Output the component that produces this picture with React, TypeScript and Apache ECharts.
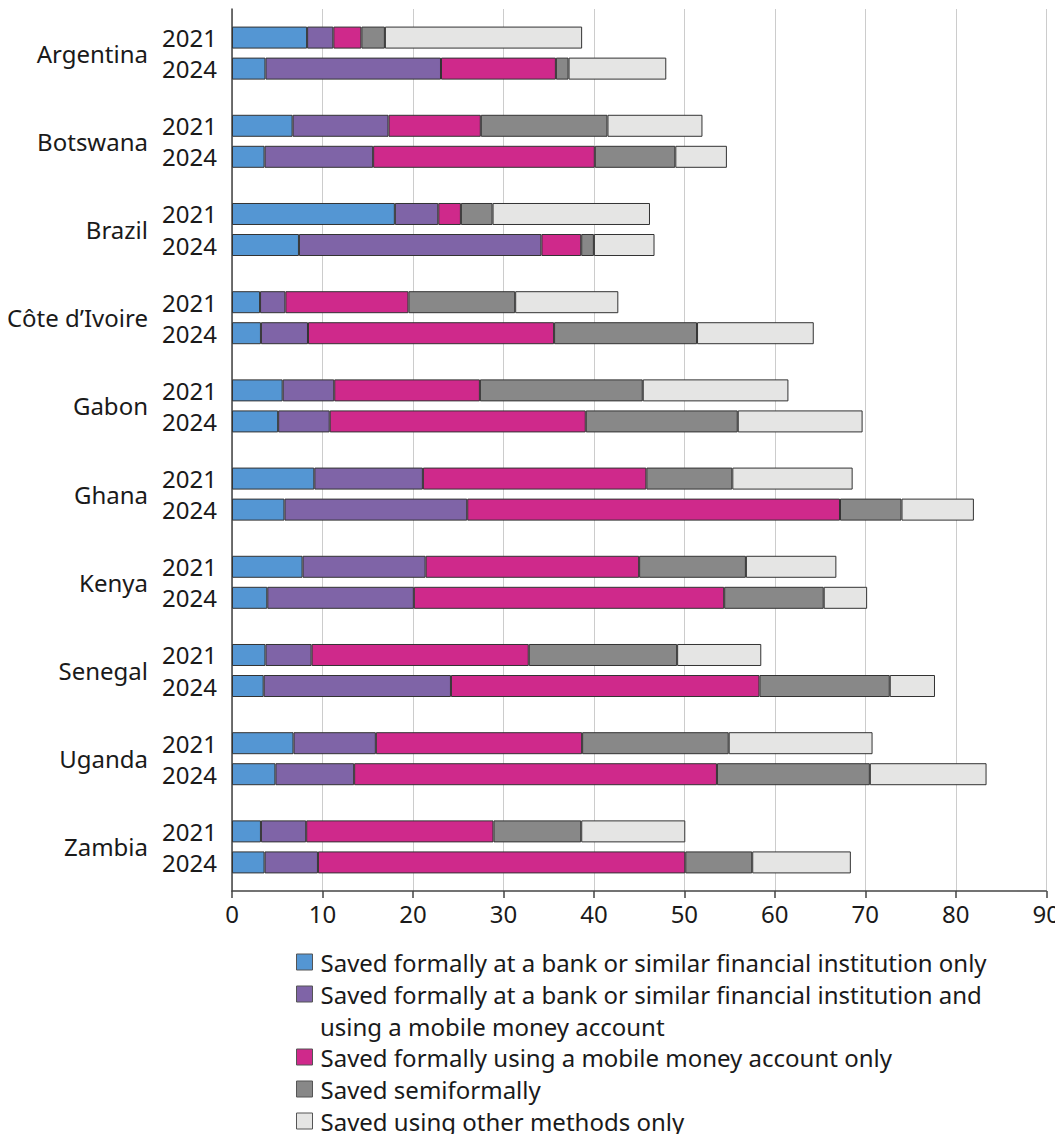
import React, { useEffect, useRef } from "react";
import * as echarts from "echarts";

const countries = ["Argentina", "Botswana", "Brazil", "Côte d’Ivoire", "Gabon", "Ghana", "Kenya", "Senegal", "Uganda", "Zambia"];
const years = ["2021", "2024"];
const xTicks = [0, 10, 20, 30, 40, 50, 60, 70, 80, 90];

const seriesNames = [
  "Saved formally at a bank or similar financial institution only",
  "Saved formally at a bank or similar financial institution and using a mobile money account",
  "Saved formally using a mobile money account only",
  "Saved semiformally",
  "Saved using other methods only",
];
const purpleLine1 = "Saved formally at a bank or similar financial institution and";
const purpleLine2 = "using a mobile money account";

const colors = ["#5496d3", "#7f64a7", "#cf298b", "#888888", "#e5e5e4"];

// 2021
const bankOnly2021 = [8.3, 6.7, 18.0, 3.1, 5.6, 9.1, 7.8, 3.7, 6.8, 3.2];
const bankMobile2021 = [2.9, 10.6, 4.8, 2.8, 5.7, 12.0, 13.6, 5.1, 9.1, 5.0];
const mobileOnly2021 = [3.1, 10.2, 2.5, 13.6, 16.1, 24.7, 23.6, 24.0, 22.8, 20.7];
const semiformal2021 = [2.6, 14.0, 3.5, 11.8, 18.0, 9.5, 11.8, 16.4, 16.2, 9.7];
const other2021 = [21.8, 10.5, 17.4, 11.4, 16.1, 13.3, 10.0, 9.3, 15.9, 11.5];

// 2024
const bankOnly2024 = [3.7, 3.6, 7.4, 3.2, 5.1, 5.8, 3.9, 3.5, 4.8, 3.6];
const bankMobile2024 = [19.4, 12.0, 26.8, 5.2, 5.7, 20.2, 16.2, 20.7, 8.7, 5.9];
const mobileOnly2024 = [12.7, 24.5, 4.4, 27.2, 28.3, 41.2, 34.3, 34.1, 40.1, 40.6];
const semiformal2024 = [1.4, 8.9, 1.4, 15.8, 16.8, 6.8, 11.0, 14.4, 16.9, 7.4];
const other2024 = [10.8, 5.7, 6.7, 12.9, 13.8, 8.0, 4.8, 5.0, 12.9, 10.9];

const byYear = [
  [bankOnly2021, bankMobile2021, mobileOnly2021, semiformal2021, other2021],
  [bankOnly2024, bankMobile2024, mobileOnly2024, semiformal2024, other2024],
];

const FONT = "Noto Sans";
const TEXT = "#1a1a1a";
const FS = 24;

export default function App() {
  const ref = useRef<HTMLDivElement>(null);
  useEffect(() => {
    const chart = echarts.init(ref.current!, null, { renderer: "svg" });
    const series: any[] = [];
    years.forEach((yr, yi) => {
      byYear[yi].forEach((vals, si) => {
        series.push({
          type: "bar",
          name: seriesNames[si],
          stack: yr,
          data: vals,
          barWidth: 22,
          barGap: "41%",
          itemStyle: { color: colors[si], borderColor: "#333333", borderWidth: 1 },
          label:
            si === 0
              ? {
                  show: true,
                  position: "left",
                  distance: 15,
                  formatter: () => yr,
                  fontFamily: FONT,
                  fontSize: FS,
                  color: TEXT,
                }
              : { show: false },
          emphasis: { disabled: true },
        });
      });
    });

    const legendCommon = {
      orient: "vertical",
      left: 296,
      padding: 0,
      height: 120,
      itemWidth: 16,
      itemHeight: 16,
      itemGap: 4,
      icon: "rect",
      selectedMode: false,
      itemStyle: { borderColor: "#555555", borderWidth: 1 },
      textStyle: { fontFamily: FONT, fontSize: FS, color: TEXT, lineHeight: 28, padding: [0, 0, 0, 3] },
      formatter: (n: string) => (n === seriesNames[1] ? purpleLine1 : n),
    };

    chart.setOption({
      animation: false,
      textStyle: { fontFamily: FONT },
      grid: { left: 232, right: 15, top: 9, height: 882, containLabel: false },
      xAxis: {
        type: "value",
        min: xTicks[0],
        max: xTicks[xTicks.length - 1],
        interval: 10,
        axisLine: { show: true, lineStyle: { color: "#444", width: 1.5 } },
        axisTick: { show: true, length: 7, lineStyle: { color: "#444", width: 1.5 } },
        axisLabel: { fontFamily: FONT, fontSize: FS, color: TEXT, margin: 10 },
        splitLine: { show: true, lineStyle: { color: "#cccccc", width: 1 } },
      },
      yAxis: {
        type: "category",
        data: countries,
        inverse: true,
        axisLine: { show: true, lineStyle: { color: "#444", width: 1.5 } },
        axisTick: { show: false },
        axisLabel: { fontFamily: FONT, fontSize: FS, color: TEXT, margin: 84 },
        splitLine: { show: false },
      },
      legend: [
        { ...legendCommon, top: 948, data: [seriesNames[0], seriesNames[1]] },
        { ...legendCommon, top: 1043, data: [seriesNames[2], seriesNames[3], seriesNames[4]] },
      ],
      graphic: [
        {
          type: "text",
          x: 320,
          y: 1026,
          style: { text: purpleLine2, font: `${FS}px "${FONT}"`, fill: TEXT, verticalAlign: "middle" },
        },
      ],
      series,
    });
    return () => chart.dispose();
  }, []);
  return <div ref={ref} style={{ width: 1063, height: 1142, margin: -8 }} />;
}
